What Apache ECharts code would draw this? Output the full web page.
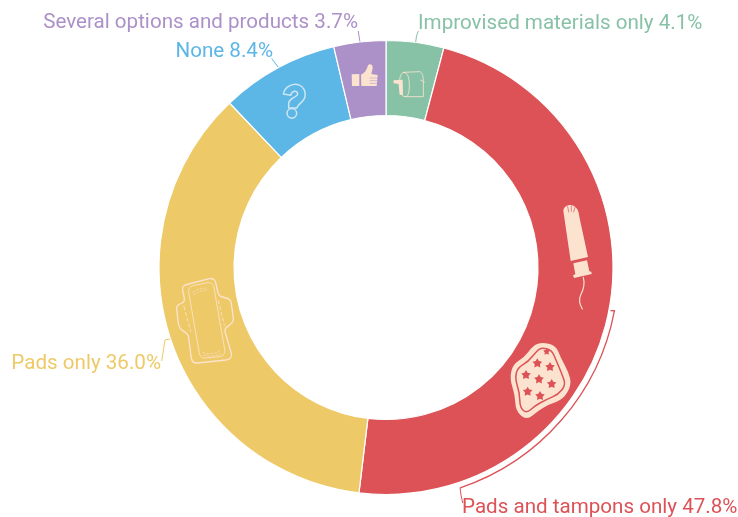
<!DOCTYPE html>
<html>
<head>
<meta charset="utf-8">
<style>html,body{margin:0;padding:0;background:#fff}#chart{width:738px;height:517px}</style>
<script src="https://cdn.jsdelivr.net/npm/echarts@6/dist/echarts.min.js"></script>
</head>
<body>
<div id="chart"></div>
<script>
// Menstrual product use, clockwise from twelve o'clock
const categories = ['Improvised materials only', 'Pads and tampons only', 'Pads only', 'None', 'Several options and products'];
const shares = [4.1, 47.8, 36.0, 8.4, 3.7];
const colors = ['#88C2A6', '#DC5256', '#EEC968', '#5CB6E6', '#AC90C8'];

const CREAM = '#FBE3CF';
const CENTER = [386, 267.5];

// Label anchors and their leader lines, one entry per category
const labelSpots = [
  { x: 418, y: 24, align: 'left', line: [[418.3, 31], [416.5, 36], [415.7, 42]] },
  { x: 462, y: 508, align: 'left', line: [[462.7, 503], [461, 495], [460, 487.7]] },
  { x: 161, y: 364, align: 'right', line: [[161.7, 361], [165, 340], [170, 339]] },
  { x: 273, y: 52, align: 'right', line: [[271.7, 58.5], [275, 63], [278.3, 67.3]] },
  { x: 358, y: 23, align: 'right', line: [[358.3, 31], [359, 36], [360, 42]] }
];

// Closed smooth outline through the given points
function blob(pts) {
  const mid = (a, b) => [(a[0] + b[0]) / 2, (a[1] + b[1]) / 2];
  let s = mid(pts[pts.length - 1], pts[0]);
  let d = 'M' + s[0] + ' ' + s[1];
  pts.forEach((p, i) => {
    const m = mid(p, pts[(i + 1) % pts.length]);
    d += 'Q' + p[0] + ' ' + p[1] + ' ' + m[0] + ' ' + m[1];
  });
  return d + 'Z';
}
// Five-pointed star outline
function star(cx, cy, r) {
  const pts = [];
  for (let i = 0; i < 10; i++) {
    const a = -Math.PI / 2 + i * Math.PI / 5, q = i % 2 ? r * 0.55 : r;
    pts.push([cx + q * Math.cos(a), cy + q * Math.sin(a)]);
  }
  return { type: 'polygon', shape: { points: pts }, style: { fill: colors[1] } };
}
const fillPath = (d, fill) => ({ type: 'path', shape: { pathData: d }, style: { fill: fill || CREAM } });
const linePath = (d, width, dash, stroke) => ({
  type: 'path', shape: { pathData: d },
  style: { fill: 'none', stroke: stroke || CREAM, lineWidth: width, lineDash: dash || null, lineCap: 'round', lineJoin: 'round' }
});
// Icon artwork is sketched at triple size and scaled down
const icon = (x, y, children) => ({ type: 'group', x: x, y: y, scaleX: 1 / 3, scaleY: 1 / 3, children: children });

const tampon = icon(500, 190, [
  fillPath('M190 62C192 50 200 48 205 46C212 43 225 46 232 58C235 64 237 72 238 80L264 201L212 213Z'),
  linePath('M203 50L206 66M214 48L214 64M225 52L221 66', 2, null, colors[1]),
  fillPath('M220 220L261 211L268 244L274 245L275 252L222 264L219 256L226 253Z'),
  linePath('M250 262C256 285 250 300 242 315C236 328 240 345 247 357', 3.5)
]);
const starPad = icon(505, 335, [
  fillPath(blob([[110, 22], [152, 30], [168, 70], [190, 110], [200, 150], [174, 194], [132, 208], [98, 228], [65, 256], [32, 228], [30, 180], [14, 130], [24, 87], [58, 67], [84, 32]])),
  linePath(blob([[110, 38], [140, 45], [153, 75], [172, 120], [182, 150], [160, 178], [125, 193], [90, 212], [65, 235], [45, 218], [44, 175], [30, 130], [38, 98], [70, 80], [95, 48]]), 4.5, null, colors[1]),
  star(125, 50, 11), star(97, 85, 15), star(135, 96, 15), star(63, 120, 15),
  star(102, 133, 15), star(140, 147, 15), star(68, 170, 15), star(105, 183, 15)
]);
const wingedPad = icon(170, 270, [
  linePath('M38 60C36 46 46 44 56 42L118 26C130 24 136 30 138 42L144 68C146 78 152 80 168 84C180 87 183 92 184 100L190 146C191 158 182 164 172 170C163 176 164 182 167 192L184 250C187 262 180 268 168 270L82 279C72 280 66 274 64 264L56 204C55 194 50 188 38 182C28 177 27 170 25 160L20 118C19 106 26 102 34 100C40 98 44 94 43 86Z', 4),
  linePath('M56 66C54 54 62 48 74 46L114 38C124 37 130 44 132 54L164 238C166 252 160 258 148 260L106 264C96 265 90 260 88 250Z', 2.6),
  linePath('M68 66C80 58 92 56 108 54M70 74C82 66 96 62 112 60', 2, [6, 6]),
  linePath('M98 248C112 254 132 252 148 244M102 256C116 260 136 258 152 252', 2, [6, 6]),
  linePath('M42 110L62 184', 2.6, [9, 9]),
  linePath('M145 92L163 166', 2.6, [9, 9])
]);
const questionMark = icon(230, 40, [
  linePath('M160 162C164 138 190 130 205 134C222 140 228 156 225 170C222 186 204 192 200 204L176 204L176 188C180 172 204 172 203 160C200 150 186 152 182 166Z', 4.5, null, '#CFE6EF'),
  linePath('M200 220A14 14 0 1 1 171 220A14 14 0 1 1 200 220Z', 4.5, null, '#CFE6EF')
]);
const thumb = icon(330, 0, [
  fillPath('M65 223L88 222L88 258L66 258Z'),
  fillPath('M93 224C104 220 110 210 114 196C118 190 128 192 128 202C128 210 125 216 124 222L143 225L140 258L94 258Z'),
  linePath('M120 234L141 234M120 242L140 242M120 250L139 250', 1.5, null, colors[4])
]);
const toiletRoll = icon(330, 0, [
  linePath('M222 217L268 215C276 215 280 228 280 242L280 290L226 290', 2.5),
  linePath('M222 217C212 217 208 235 208 254C208 274 214 290 226 290C236 290 238 272 238 254C238 232 232 217 222 217Z', 2.5),
  fillPath('M190 241L218 239L219 284L209 285L206 252L191 250Z'),
  linePath('M272 240L283 246', 2.5)
]);

const chart = echarts.init(document.getElementById('chart'), null, { renderer: 'canvas' });
chart.setOption({
  animation: false,
  backgroundColor: '#fff',
  graphic: {
    elements: [
      // Bracket following the outer rim of the red segment
      {
        type: 'arc', z: 5,
        shape: { cx: CENTER[0], cy: CENTER[1], r: 232.5, startAngle: 10.6 * Math.PI / 180, endAngle: 71.4 * Math.PI / 180, clockwise: true },
        style: { fill: 'none', stroke: colors[1], lineWidth: 1.3 }
      },
      {
        type: 'line', z: 5,
        shape: { x1: 610.5, y1: 310.7, x2: 615, y2: 310.7 },
        style: { stroke: colors[1], lineWidth: 1.3 }
      }
    ]
  },
  series: [{
    type: 'pie',
    center: CENTER,
    radius: [152, 227],
    startAngle: 90,
    clockwise: true,
    avoidLabelOverlap: false,
    data: categories.map((name, i) => ({ name: name, value: shares[i], itemStyle: { color: colors[i] } })),
    itemStyle: { borderColor: '#fff', borderWidth: 1.2 },
    emphasis: { disabled: true },
    label: {
      show: true,
      position: 'outside',
      formatter: p => p.name + ' ' + p.value.toFixed(1) + '%',
      fontFamily: 'Roboto',
      fontSize: 20.6,
      color: 'inherit'
    },
    labelLine: { show: true, lineStyle: { width: 1 } },
    labelLayout: p => {
      const s = labelSpots[p.dataIndex];
      return { x: s.x, y: s.y, align: s.align, verticalAlign: 'middle', labelLinePoints: s.line };
    }
  }, {
    // Product icons sit on top of the ring
    type: 'custom',
    coordinateSystem: 'none',
    z: 6,
    silent: true,
    data: [0],
    renderItem: () => ({
      type: 'group',
      children: [tampon, starPad, wingedPad, questionMark, thumb, toiletRoll]
    })
  }]
});
</script>
</body>
</html>
